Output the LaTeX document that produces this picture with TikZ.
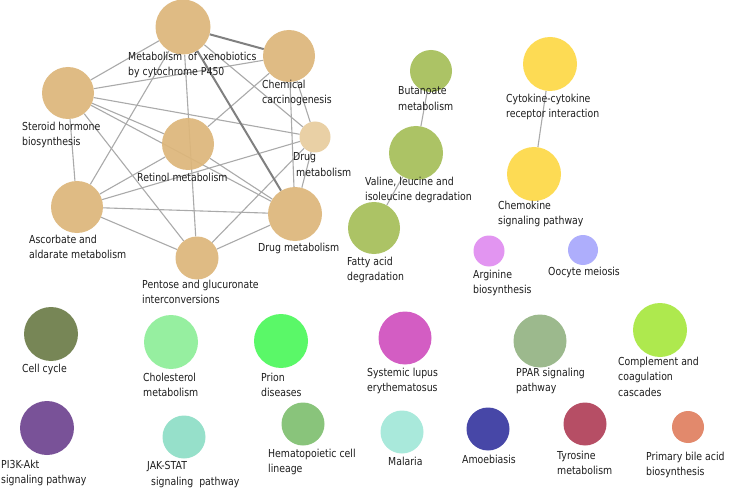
\documentclass[tikz,border=0pt]{standalone}
\usepackage{fontspec}
\setmainfont{DejaVu Sans}[FakeStretch=0.85]
\usetikzlibrary{backgrounds}
\definecolor{tanc}{RGB}{221,182,122}
\definecolor{tanl}{RGB}{232,204,158}
\definecolor{olvc}{RGB}{165,190,88}
\definecolor{yelc}{RGB}{253,216,70}
\definecolor{argc}{RGB}{224,140,240}
\definecolor{oocc}{RGB}{168,168,252}
\definecolor{cellc}{RGB}{108,124,72}
\definecolor{cholc}{RGB}{142,238,152}
\definecolor{prioc}{RGB}{76,248,92}
\definecolor{slec}{RGB}{208,80,190}
\definecolor{pparc}{RGB}{148,180,132}
\definecolor{compc}{RGB}{168,232,64}
\definecolor{pikc}{RGB}{110,68,144}
\definecolor{jakc}{RGB}{142,222,198}
\definecolor{hemac}{RGB}{128,192,112}
\definecolor{malac}{RGB}{162,232,216}
\definecolor{amoec}{RGB}{56,56,160}
\definecolor{tyroc}{RGB}{176,64,88}
\definecolor{bilec}{RGB}{224,128,96}
\definecolor{edgec}{RGB}{170,170,170}
\definecolor{edgedk}{RGB}{128,128,128}
\definecolor{txtc}{RGB}{30,30,30}
\begin{document}
\begin{tikzpicture}[x=1pt,y=-1pt,
  every node/.style={font=\fontsize{11}{15.5}\selectfont, text=txtc},
  pw/.style={circle, inner sep=0pt, minimum size=#1pt, fill opacity=0.92},
  lbl/.style={anchor=north west, inner sep=0pt, align=left},
  edge/.style={draw=edgec, line width=1.1pt},
  heavy/.style={draw=edgedk, line width=2pt}]
  \useasboundingbox (0,0) rectangle (734,492);
  % pathway nodes: name/x/y/diameter/colour
  \foreach \n/\x/\y/\d/\c in {xeno/183/27/55/tanc, chem/289/56/52/tanc, ster/68/93/52/tanc, reti/188/144/52/tanc,
      drugs/315/137/31/tanl, asco/77/207/52/tanc, drugl/295/214/54/tanc, pent/197/258/43/tanc,
      buta/431/71/42/olvc, vali/416/153/54/olvc, fatt/374/228/52/olvc, cyto/550/64/54/yelc, chemo/534/174/54/yelc,
      argi/489/251/31/argc, oocy/583/250/30/oocc, cell/51/334/54/cellc, chol/171/342/54/cholc, prio/281/341/54/prioc,
      sle/405/338/53/slec, ppar/540/341/53/pparc, comp/660/330/54/compc, pik/47/428/54/pikc, jak/184/437/43/jakc,
      hema/303/424/43/hemac, mala/402/432/43/malac, amoe/488/429/43/amoec, tyro/585/424/43/tyroc, bile/688/427/32/bilec}
    \node[pw=\d, fill=\c] (\n) at (\x,\y) {};
  % labels
  \foreach \n/\x/\y/\t in {xeno/128/51.5/{Metabolism\hspace{3pt} of\hspace{3pt} xenobiotics\\by cytochrome P450}, chem/262/79.5/{Chemical\\carcinogenesis},
      ster/22/121.5/{Steroid hormone\\biosynthesis}, reti/137/172.5/{Retinol metabolism},
      drugs/293/152.5/{Drug\\\hspace*{3pt}metabolism}, asco/29/234.5/{Ascorbate and\\aldarate metabolism},
      drugl/258/242.5/{Drug metabolism}, pent/142/279.5/{Pentose and glucuronate\\interconversions},
      buta/398/86.5/{Butanoate\\metabolism}, vali/365/176.5/{Valine, leucine and\\isoleucine degradation},
      fatt/347/256.5/{Fatty acid\\degradation}, cyto/506/93.5/{Cytokine-cytokine\\receptor interaction},
      chemo/498/200.5/{Chemokine\\signaling pathway}, argi/473/269.5/{Arginine\\biosynthesis},
      oocy/548/266.5/{Oocyte meiosis}, cell/22/363.5/{Cell cycle}, chol/143/372.5/{Cholesterol\\metabolism},
      prio/261/372.5/{Prion\\diseases}, pik/1/459.5/{PI3K-Akt\\signaling pathway},
      jak/147/461.5/{JAK-STAT\\\hspace*{4pt}signaling\ \ pathway}, hema/268/448.5/{Hematopoietic cell\\lineage},
      sle/367/367.5/{Systemic lupus\\erythematosus}, ppar/516/367.5/{PPAR signaling\\pathway},
      comp/618/356.5/{Complement and\\coagulation\\cascades}, mala/388/456.5/{Malaria}, amoe/462/454.5/{Amoebiasis},
      tyro/557/450.5/{Tyrosine\\metabolism}, bile/646/451.5/{Primary bile acid\\biosynthesis}}
    \node[lbl] (\n L) at (\x,\y) {\t};
  \begin{scope}[on background layer]
    \fill[white] (0,0) rectangle (734,492);
    \foreach \a/\b in {xeno/ster, xeno/asco, xeno/pent, xeno/drugs, ster/chem, ster/drugs, ster/reti, ster/drugl,
        ster/asco, ster/pent, chem/reti, chem/drugl, chem/drugs, drugs/drugl, drugs/asco, drugs/pent,
        reti/asco, reti/drugl, asco/drugl, asco/pent, pent/drugl, buta/vali, vali/fatt, cyto/chemo}
      \draw[edge] (\a) -- (\b);
    \draw[heavy] (xeno) -- (chem);
    \draw[heavy] (xeno) -- (drugl);
  \end{scope}
\end{tikzpicture}
\end{document}
